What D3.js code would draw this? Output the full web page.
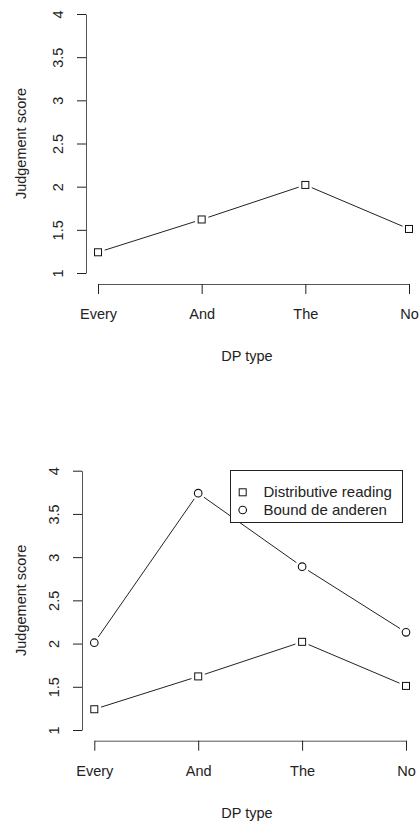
<!DOCTYPE html>
<html>
<head>
<meta charset="utf-8">
<script src="https://cdn.jsdelivr.net/npm/d3@7/dist/d3.min.js"></script>
<style>
  body { margin: 0; background: #fff; }
  svg { display: block; font-family: "Liberation Sans", Arial, sans-serif; }
  text { fill: #222; }
</style>
</head>
<body>
<svg id="chart" width="420" height="821"></svg>
<script>
const dpTypes = ['Every', 'And', 'The', 'No'];
const distributive = [1.24, 1.62, 2.02, 1.51];
const boundAnderen = [2.01, 3.74, 2.89, 2.13];
const yTicks = [1, 1.5, 2, 2.5, 3, 3.5, 4];
const legendLabels = ['Distributive reading', 'Bound de anderen'];
const xTitle = 'DP type';
const yTitle = 'Judgement score';

function translate(x, y) {
    return `translate(${x}, ${y})`;
}

const svg = d3.select('#chart');

// panel layout (pixel positions of the axes in the page)
const panels = [
    { yAxisX: 86, xLeft: 98, xRight: 409, yTop: 14, yBottom: 273, xAxisY: 284,
      series: [{ values: distributive, symbol: 'square' }], legend: false },
    { yAxisX: 82, xLeft: 94.3, xRight: 406, yTop: 470.7, yBottom: 730, xAxisY: 740.7,
      series: [{ values: distributive, symbol: 'square' }, { values: boundAnderen, symbol: 'circle' }], legend: true },
];

function drawSymbol(g, type, cx, cy) {
    if (type === 'square') {
        g.append('rect')
            .attr('x', cx - 3.5).attr('y', cy - 3.5)
            .attr('width', 7).attr('height', 7)
            .style('fill', 'none').style('stroke', '#111').style('stroke-width', 1);
    } else {
        g.append('circle')
            .attr('cx', cx).attr('cy', cy).attr('r', 3.8)
            .style('fill', 'none').style('stroke', '#111').style('stroke-width', 1.1);
    }
}

panels.forEach(p => {
    const x = d3.scalePoint().domain(dpTypes).range([p.xLeft, p.xRight]);
    const y = d3.scaleLinear().domain([1, 4]).range([p.yBottom, p.yTop]);

    // y axis
    const yAxisG = svg.append('g')
        .attr('transform', translate(p.yAxisX, 0))
        .call(d3.axisLeft(y).tickValues(yTicks).tickSize(9).tickSizeOuter(0).tickFormat(d3.format('')));
    yAxisG.select('.domain').style('stroke', '#555');
    yAxisG.selectAll('.tick line').style('stroke', '#222');
    yAxisG.selectAll('.tick text')
        .attr('x', null).attr('dy', null)
        .attr('transform', translate(-23, 0) + ' rotate(-90)')
        .style('text-anchor', 'middle')
        .style('font-size', '14.5px')
        .style('font-family', '"Liberation Sans", Arial, sans-serif')
        .style('fill', '#222');

    // x axis
    const xAxisG = svg.append('g')
        .attr('transform', translate(0, p.xAxisY))
        .call(d3.axisBottom(x).tickSize(10).tickSizeOuter(0).tickPadding(14));
    xAxisG.select('.domain').style('stroke', '#555');
    xAxisG.selectAll('.tick line').style('stroke', '#222');
    xAxisG.selectAll('.tick text')
        .attr('y', 35).attr('dy', null)
        .style('font-size', '14.5px')
        .style('font-family', '"Liberation Sans", Arial, sans-serif')
        .style('fill', '#222');

    // titles
    svg.append('text')
        .attr('transform', translate(247, p.xAxisY + 77))
        .style('text-anchor', 'middle')
        .style('font-size', '14.5px')
        .text(xTitle);
    svg.append('text')
        .attr('transform', translate(26, (p.yTop + p.yBottom) / 2) + ' rotate(-90)')
        .style('text-anchor', 'middle')
        .style('font-size', '14.5px')
        .text(yTitle);

    // series: lines with gaps around the symbols (type = "b")
    const gap = 7;
    p.series.forEach(s => {
        const pts = s.values.map((v, i) => [x(dpTypes[i]), y(v)]);
        const lines = svg.append('g');
        for (let i = 0; i < pts.length - 1; i++) {
            const [x0, y0] = pts[i];
            const [x1, y1] = pts[i + 1];
            const len = Math.hypot(x1 - x0, y1 - y0);
            const ux = (x1 - x0) / len, uy = (y1 - y0) / len;
            lines.append('line')
                .attr('x1', x0 + ux * gap).attr('y1', y0 + uy * gap)
                .attr('x2', x1 - ux * gap).attr('y2', y1 - uy * gap)
                .style('stroke', '#222').style('stroke-width', 1);
        }
        const sym = svg.append('g');
        pts.forEach(([cx, cy]) => drawSymbol(sym, s.symbol, cx, cy));
    });

    if (p.legend) {
        const lg = svg.append('g');
        lg.append('rect')
            .attr('x', 230.5).attr('y', 470.5)
            .attr('width', 172).attr('height', 52)
            .style('fill', '#fff').style('stroke', '#222').style('stroke-width', 1);
        p.series.forEach((s, i) => {
            const cy = 492.3 + i * 17.7;
            drawSymbol(lg, s.symbol, 242.7, cy);
            lg.append('text')
                .attr('x', 263.5).attr('y', cy + 5)
                .style('font-size', '15px')
                .text(legendLabels[i]);
        });
    }
});
</script>
</body>
</html>
